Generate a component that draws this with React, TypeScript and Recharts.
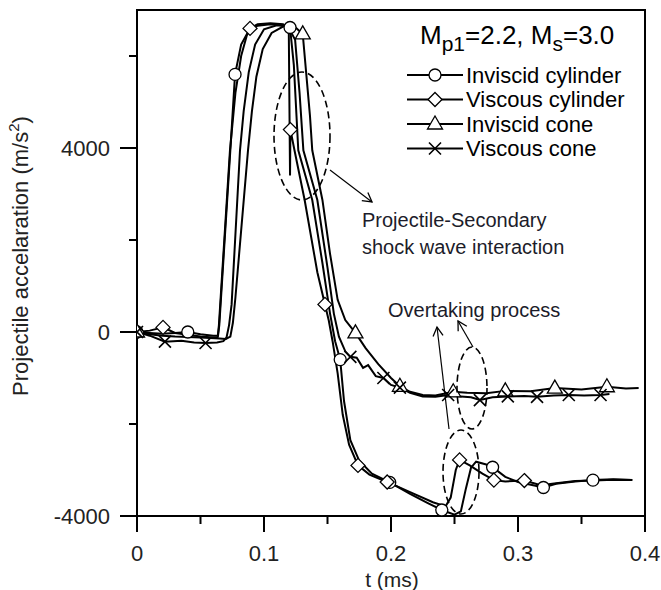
import React from "react";
import { LineChart, Line, XAxis, YAxis, ReferenceArea } from "recharts";

// [t (ms), acceleration (m/s2), marker?]
type Pt = [number, number, number?];

const invCyl: Pt[] = [
  [0, 0, 1], [0.01, -20], [0.02, -40], [0.03, -20], [0.04, 0, 1], [0.05, -50],
  [0.06, -80], [0.0638, -80], [0.0648, 150], [0.0735, 3950], [0.0772, 5600, 1],
  [0.082, 6250], [0.088, 6550], [0.095, 6660], [0.105, 6690], [0.114, 6680],
  [0.1205, 6620, 1], [0.1235, 5800], [0.127, 3950], [0.138, 2870], [0.146, 1500],
  [0.152, 400], [0.156, -200], [0.16, -600, 1], [0.163, -1500], [0.168, -2350],
  [0.175, -2800], [0.185, -3080], [0.199, -3270, 1], [0.215, -3520], [0.229, -3720],
  [0.24, -3870, 1], [0.25, -3970], [0.255, -3900], [0.259, -3400], [0.263, -2950],
  [0.267, -2820], [0.275, -2880], [0.28, -2940, 1], [0.29, -3150], [0.3, -3260],
  [0.32, -3380, 1], [0.33, -3300], [0.345, -3250], [0.359, -3220, 1], [0.375, -3200],
  [0.39, -3220],
];

const visCyl: Pt[] = [
  [0, 0, 1], [0.01, 30], [0.0205, 100, 1], [0.03, -20], [0.04, -60], [0.05, -100],
  [0.06, -120], [0.0635, -120], [0.0645, 150], [0.0732, 3950], [0.0775, 5200],
  [0.082, 6000], [0.0865, 6450], [0.089, 6600, 1], [0.095, 6690], [0.105, 6710],
  [0.115, 6690], [0.1195, 6620], [0.1205, 3400], [0.1208, 4400, 1], [0.124, 3950],
  [0.132, 2870], [0.142, 1300], [0.148, 600, 1], [0.151, 250], [0.154, -200],
  [0.158, -900], [0.162, -1800], [0.167, -2450], [0.174, -2900, 1], [0.183, -3100],
  [0.197, -3260, 1], [0.215, -3480], [0.233, -3700], [0.243, -3790], [0.247, -3600],
  [0.251, -3000], [0.254, -2780, 1], [0.262, -2900], [0.272, -3080], [0.281, -3220, 1],
  [0.29, -3250], [0.305, -3230, 1], [0.318, -3330], [0.33, -3290], [0.345, -3240],
  [0.36, -3230], [0.375, -3210], [0.39, -3220],
];

const invCone: Pt[] = [
  [0, 0, 1], [0.01, -50], [0.02, -80], [0.03, -100], [0.05, -120], [0.065, -140],
  [0.07, -150], [0.0735, -100], [0.0755, 200], [0.0775, 750], [0.0874, 3950],
  [0.0905, 4800], [0.094, 5550], [0.099, 6150], [0.106, 6500], [0.115, 6640],
  [0.124, 6640], [0.1305, 6480, 1], [0.133, 5700], [0.1362, 4700], [0.138, 3950],
  [0.146, 2870], [0.152, 1700], [0.158, 700], [0.164, 261], [0.172, -20, 1],
  [0.18, -350], [0.19, -700], [0.2, -1000], [0.207, -1180, 1], [0.215, -1300],
  [0.225, -1370], [0.235, -1380], [0.249, -1300, 1], [0.26, -1320], [0.275, -1330],
  [0.29, -1280, 1], [0.31, -1290], [0.329, -1220, 1], [0.35, -1250], [0.37, -1190, 1],
  [0.385, -1230], [0.395, -1220],
];

const visCone: Pt[] = [
  [0, 0, 1], [0.01, -80], [0.022, -210, 1], [0.035, -190], [0.045, -230],
  [0.054, -240, 1], [0.063, -230], [0.068, -200], [0.0705, -120], [0.0725, 150],
  [0.0745, 600], [0.0811, 3950], [0.084, 4800], [0.088, 5650], [0.093, 6250],
  [0.1, 6580], [0.11, 6670], [0.119, 6640], [0.1245, 6350], [0.128, 5200],
  [0.131, 3950], [0.142, 2870], [0.15, 1400], [0.155, 400], [0.159, -100],
  [0.164, -420], [0.168, -540, 1], [0.173, -560], [0.178, -780], [0.182, -720],
  [0.188, -960], [0.194, -1000, 1], [0.2, -1150], [0.207, -1210, 1], [0.215, -1320],
  [0.225, -1400], [0.235, -1410], [0.245, -1370, 1], [0.255, -1400], [0.263, -1420],
  [0.27, -1480, 1], [0.28, -1420], [0.292, -1400, 1], [0.305, -1390], [0.315, -1410, 1],
  [0.328, -1380], [0.34, -1370, 1], [0.352, -1380], [0.365, -1370, 1], [0.372, -1350],
];

const seriesNames = ["Inviscid cylinder", "Viscous cylinder", "Inviscid cone", "Viscous cone"];
const seriesMarkers = ["circle", "diamond", "triangle", "cross"];
const seriesData = [invCyl, visCyl, invCone, visCone];

const xTicks = [0, 0.05, 0.1, 0.15, 0.2, 0.25, 0.3, 0.35, 0.4];
const xLabels = [0, 0.1, 0.2, 0.3, 0.4];
const yTicks = [-4000, -2000, 0, 2000, 4000, 6000];
const yLabels = [-4000, 0, 4000];

const FONT = "'Liberation Sans', Arial, sans-serif";

const toRows = (pts: Pt[]) => pts.map(([t, a, m]) => ({ t, a, m: !!m }));

const Marker = ({ kind, cx, cy }: { kind: string; cx: number; cy: number }) => {
  if (kind === "circle")
    return <circle cx={cx} cy={cy} r={6} fill="#fff" stroke="#000" strokeWidth={1.3} />;
  if (kind === "diamond")
    return (
      <polygon
        points={`${cx},${cy - 7} ${cx + 7},${cy} ${cx},${cy + 7} ${cx - 7},${cy}`}
        fill="#fff"
        stroke="#000"
        strokeWidth={1.3}
      />
    );
  if (kind === "triangle")
    return (
      <polygon
        points={`${cx},${cy - 8} ${cx + 7.5},${cy + 5} ${cx - 7.5},${cy + 5}`}
        fill="#fff"
        stroke="#000"
        strokeWidth={1.3}
      />
    );
  return (
    <path
      d={`M${cx - 6},${cy - 6}L${cx + 6},${cy + 6}M${cx + 6},${cy - 6}L${cx - 6},${cy + 6}`}
      stroke="#000"
      strokeWidth={1.6}
    />
  );
};

const isIn = (list: number[], v: number) => list.some((l) => Math.abs(l - v) < 1e-9);

const YTick = (props: any) => {
  const { x, y, payload } = props;
  const major = isIn(yLabels, payload.value);
  return (
    <g>
      <line x1={x - (major ? 17 : 8)} x2={x} y1={y} y2={y} stroke="#000" strokeWidth={2} />
      {major && (
        <text x={x - 27} y={y} dy="0.36em" textAnchor="end" fontSize={22} fontFamily={FONT} fill="#222">
          {payload.value}
        </text>
      )}
    </g>
  );
};

const XTick = (props: any) => {
  const { x, y, payload } = props;
  const major = isIn(xLabels, payload.value);
  return (
    <g>
      <line x1={x} x2={x} y1={y} y2={y + (major ? 16 : 8)} stroke="#000" strokeWidth={2} />
      {major && (
        <text x={x} y={y + 45} textAnchor="middle" fontSize={22} fontFamily={FONT} fill="#222">
          {payload.value}
        </text>
      )}
    </g>
  );
};

const App = () => {
  return (
    <div style={{ position: "absolute", left: 0, top: 0, width: 661, height: 590, background: "#fff" }}>
      <LineChart width={661} height={590} margin={{ top: 10, right: 16, left: 0, bottom: 0 }}>
        <XAxis
          dataKey="t"
          type="number"
          domain={[0, 0.4]}
          ticks={xTicks}
          height={74}
          tickSize={0}
          tickMargin={0}
          tick={<XTick />}
          axisLine={{ stroke: "#000", strokeWidth: 2 }}
          allowDataOverflow
        />
        <YAxis
          type="number"
          domain={[-4000, 7000]}
          ticks={yTicks}
          width={137}
          tickSize={0}
          tickMargin={0}
          tick={<YTick />}
          axisLine={{ stroke: "#000", strokeWidth: 2 }}
          allowDataOverflow
        />
        <ReferenceArea x1={0} x2={0.4} y1={-4000} y2={7000} fill="none" stroke="#000" strokeWidth={2} />
        {seriesData.map((pts, i) => (
          <Line
            key={seriesNames[i]}
            name={seriesNames[i]}
            data={toRows(pts)}
            dataKey="a"
            type="linear"
            stroke="#000"
            strokeWidth={2}
            isAnimationActive={false}
            dot={(p: any) =>
              p.payload.m ? (
                <Marker key={`m${i}-${p.index}`} kind={seriesMarkers[i]} cx={p.cx} cy={p.cy} />
              ) : (
                <g key={`m${i}-${p.index}`} />
              )
            }
            activeDot={false}
          />
        ))}
      </LineChart>

      <svg
        width={661}
        height={590}
        style={{ position: "absolute", left: 0, top: 0, pointerEvents: "none" }}
        fontFamily={FONT}
      >
        <defs>
          <marker id="arr" markerWidth={12} markerHeight={12} refX={10} refY={6} orient="auto" markerUnits="userSpaceOnUse">
            <path d="M1,1 L10,6 L1,11" fill="none" stroke="#000" strokeWidth={1.3} />
          </marker>
        </defs>

        {/* axis titles */}
        <text x={392} y={587} textAnchor="middle" fontSize={21} fill="#222">t (ms)</text>
        <text transform="translate(28,256) rotate(-90)" textAnchor="middle" fontSize={22} fill="#222">
          Projectile accelaration (m/s<tspan dy={-9} fontSize={15}>2</tspan><tspan dy={9}>)</tspan>
        </text>

        {/* legend */}
        <text x={420} y={44} fontSize={26} fill="#000">
          M<tspan dy={7} fontSize={21}>p1</tspan>
          <tspan dy={-7}>=2.2, M</tspan>
          <tspan dy={7} fontSize={21}>s</tspan>
          <tspan dy={-7}>=3.0</tspan>
        </text>
        {seriesNames.map((n, i) => {
          const y = 75 + i * 24.5;
          return (
            <g key={n}>
              <line x1={407} x2={463} y1={y} y2={y} stroke="#000" strokeWidth={2} />
              <Marker kind={seriesMarkers[i]} cx={435} cy={y} />
              <text x={466} y={y + 7.5} fontSize={22} fill="#000">{n}</text>
            </g>
          );
        })}

        {/* annotations */}
        <g fill="none" stroke="#000" strokeWidth={1.6} strokeDasharray="7 4">
          <ellipse cx={302} cy={136} rx={28} ry={64} />
          <ellipse cx={472} cy={388} rx={15} ry={41} />
          <ellipse cx={461} cy={472} rx={18} ry={42} />
        </g>
        <g stroke="#000" strokeWidth={1.2} markerEnd="url(#arr)">
          <line x1={330} y1={170} x2={372} y2={202} />
          <line x1={449} y1={429} x2={437} y2={327} />
          <line x1={473} y1={347} x2={458} y2={321} />
        </g>
        <text x={362} y={227} fontSize={20} fill="#1c1c2a">Projectile-Secondary</text>
        <text x={362} y={254} fontSize={20} fill="#1c1c2a">shock wave interaction</text>
        <text x={388} y={317} fontSize={20} fill="#1c1c2a">Overtaking process</text>
      </svg>
    </div>
  );
};

export default App;
